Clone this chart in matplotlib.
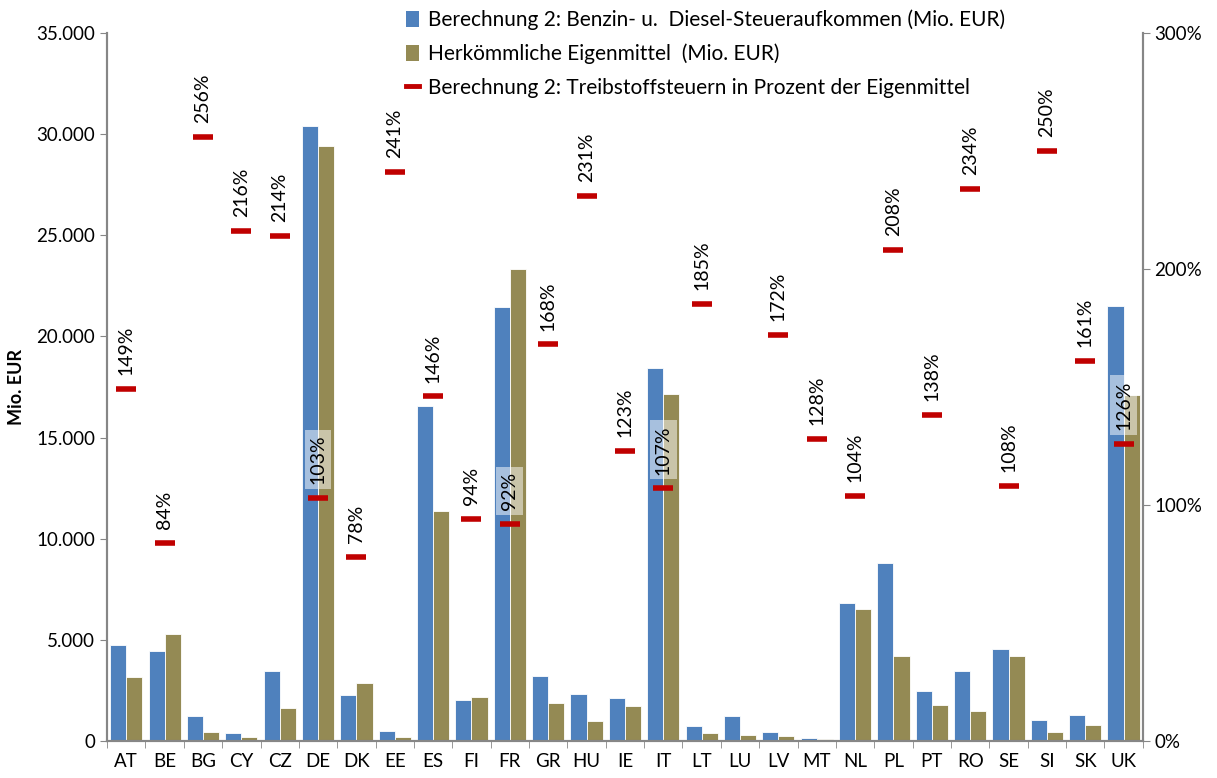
import numpy as np
import matplotlib
matplotlib.use('Agg')
import matplotlib.pyplot as plt
from matplotlib.ticker import FuncFormatter, MultipleLocator, FixedLocator
from matplotlib.patches import Patch
from matplotlib.lines import Line2D

# ------------------------------------------------------------
# Daten
# ------------------------------------------------------------
laender = ['AT', 'BE', 'BG', 'CY', 'CZ', 'DE', 'DK', 'EE', 'ES', 'FI', 'FR', 'GR', 'HU', 'IE',
           'IT', 'LT', 'LU', 'LV', 'MT', 'NL', 'PL', 'PT', 'RO', 'SE', 'SI', 'SK', 'UK']
steuer = [4750, 4430, 1220, 380, 3460, 30400, 2270, 490, 16560, 2030, 21450, 3200, 2320, 2130,
          18440, 740, 1240, 450, 130, 6820, 8800, 2470, 3460, 4550, 1040, 1270, 21500]
eigenmittel = [3180, 5290, 460, 180, 1620, 29410, 2880, 200, 11370, 2160, 23330, 1890, 1000, 1730,
               17150, 400, 300, 260, 100, 6540, 4200, 1780, 1470, 4200, 430, 790, 17100]
prozent = [149, 84, 256, 216, 214, 103, 78, 241, 146, 94, 92, 168, 231, 123,
           107, 185, 0, 172, 128, 104, 208, 138, 234, 108, 250, 161, 126]
# LU hat keinen Prozentwert im Diagramm
hat_prozent = [l != 'LU' for l in laender]

label_steuer = 'Berechnung 2: Benzin- u.  Diesel-Steueraufkommen (Mio. EUR)'
label_eigen = 'Herkömmliche Eigenmittel  (Mio. EUR)'
label_prozent = 'Berechnung 2: Treibstoffsteuern in Prozent der Eigenmittel'

BLAU = '#4F81BD'
OLIV = '#948A54'
ROT = '#C00000'
GRAU = '#868686'

plt.rcParams['font.family'] = ['Lato', 'DejaVu Sans']
plt.rcParams['font.size'] = 13.5

fig = plt.figure(figsize=(12.17, 7.78), dpi=100)
ax = fig.add_axes([0.088, 0.0476, 0.851, 0.910])

x = np.arange(len(laender))
w = 0.42
ax.bar(x - w / 2, steuer, w, color=BLAU, edgecolor='white', linewidth=0.6, zorder=2)
ax.bar(x + w / 2, eigenmittel, w, color=OLIV, edgecolor='white', linewidth=0.6, zorder=2)

ax.set_xlim(-0.5, len(laender) - 0.5)
ax.set_ylim(0, 35000)
ax.yaxis.set_major_locator(MultipleLocator(5000))
ax.yaxis.set_major_formatter(FuncFormatter(lambda v, p: f'{int(v):,}'.replace(',', '.')))
ax.set_ylabel('Mio. EUR', fontweight='bold', fontsize=13, labelpad=8)

ax.set_xticks(x)
ax.set_xticklabels(laender, fontsize=13.5)
ax.xaxis.set_minor_locator(FixedLocator(np.arange(-0.5, len(laender), 1.0)))
ax.tick_params(axis='x', which='major', length=0, pad=9)
ax.tick_params(axis='x', which='minor', length=5, color=GRAU, direction='out')
ax.tick_params(axis='y', length=5, color=GRAU, labelsize=13.5)

ax.spines['top'].set_visible(False)
for s in ['left', 'bottom', 'right']:
    ax.spines[s].set_color(GRAU)
    ax.spines[s].set_linewidth(1.5)

# ---- Prozentachse ----
ax2 = ax.twinx()
ax2.set_ylim(0, 300)
ax2.yaxis.set_major_locator(MultipleLocator(100))
ax2.yaxis.set_major_formatter(FuncFormatter(lambda v, p: f'{int(v)}%'))
ax2.tick_params(axis='y', length=5, color=GRAU, labelsize=13.5)
ax2.spines['top'].set_visible(False)
for s in ['left', 'bottom', 'right']:
    ax2.spines[s].set_color(GRAU)
    ax2.spines[s].set_linewidth(1.5)

for i, (p, ok) in enumerate(zip(prozent, hat_prozent)):
    if not ok:
        continue
    ax2.plot(i, p, marker='_', markersize=14, markeredgewidth=4, color=ROT, zorder=4)
    ax2.annotate(f'{p}%', (i, p), xytext=(0, 10), textcoords='offset points',
                 rotation=90, ha='center', va='bottom', fontsize=14,
                 bbox=dict(boxstyle='square,pad=0.25', facecolor='white', edgecolor='none', alpha=0.5),
                 zorder=5)

# ---- Legende ----
handles = [Patch(facecolor=BLAU, edgecolor='none'),
           Patch(facecolor=OLIV, edgecolor='none'),
           Line2D([0], [0], color=ROT, linewidth=3.5)]
fig.legend(handles, [label_steuer, label_eigen, label_prozent],
           loc='upper left', bbox_to_anchor=(0.318, 1.012), frameon=False,
           fontsize=15, labelspacing=0.65, handlelength=0.65, handleheight=0.8,
           handletextpad=0.4)

fig.savefig('out.png', dpi=100)
